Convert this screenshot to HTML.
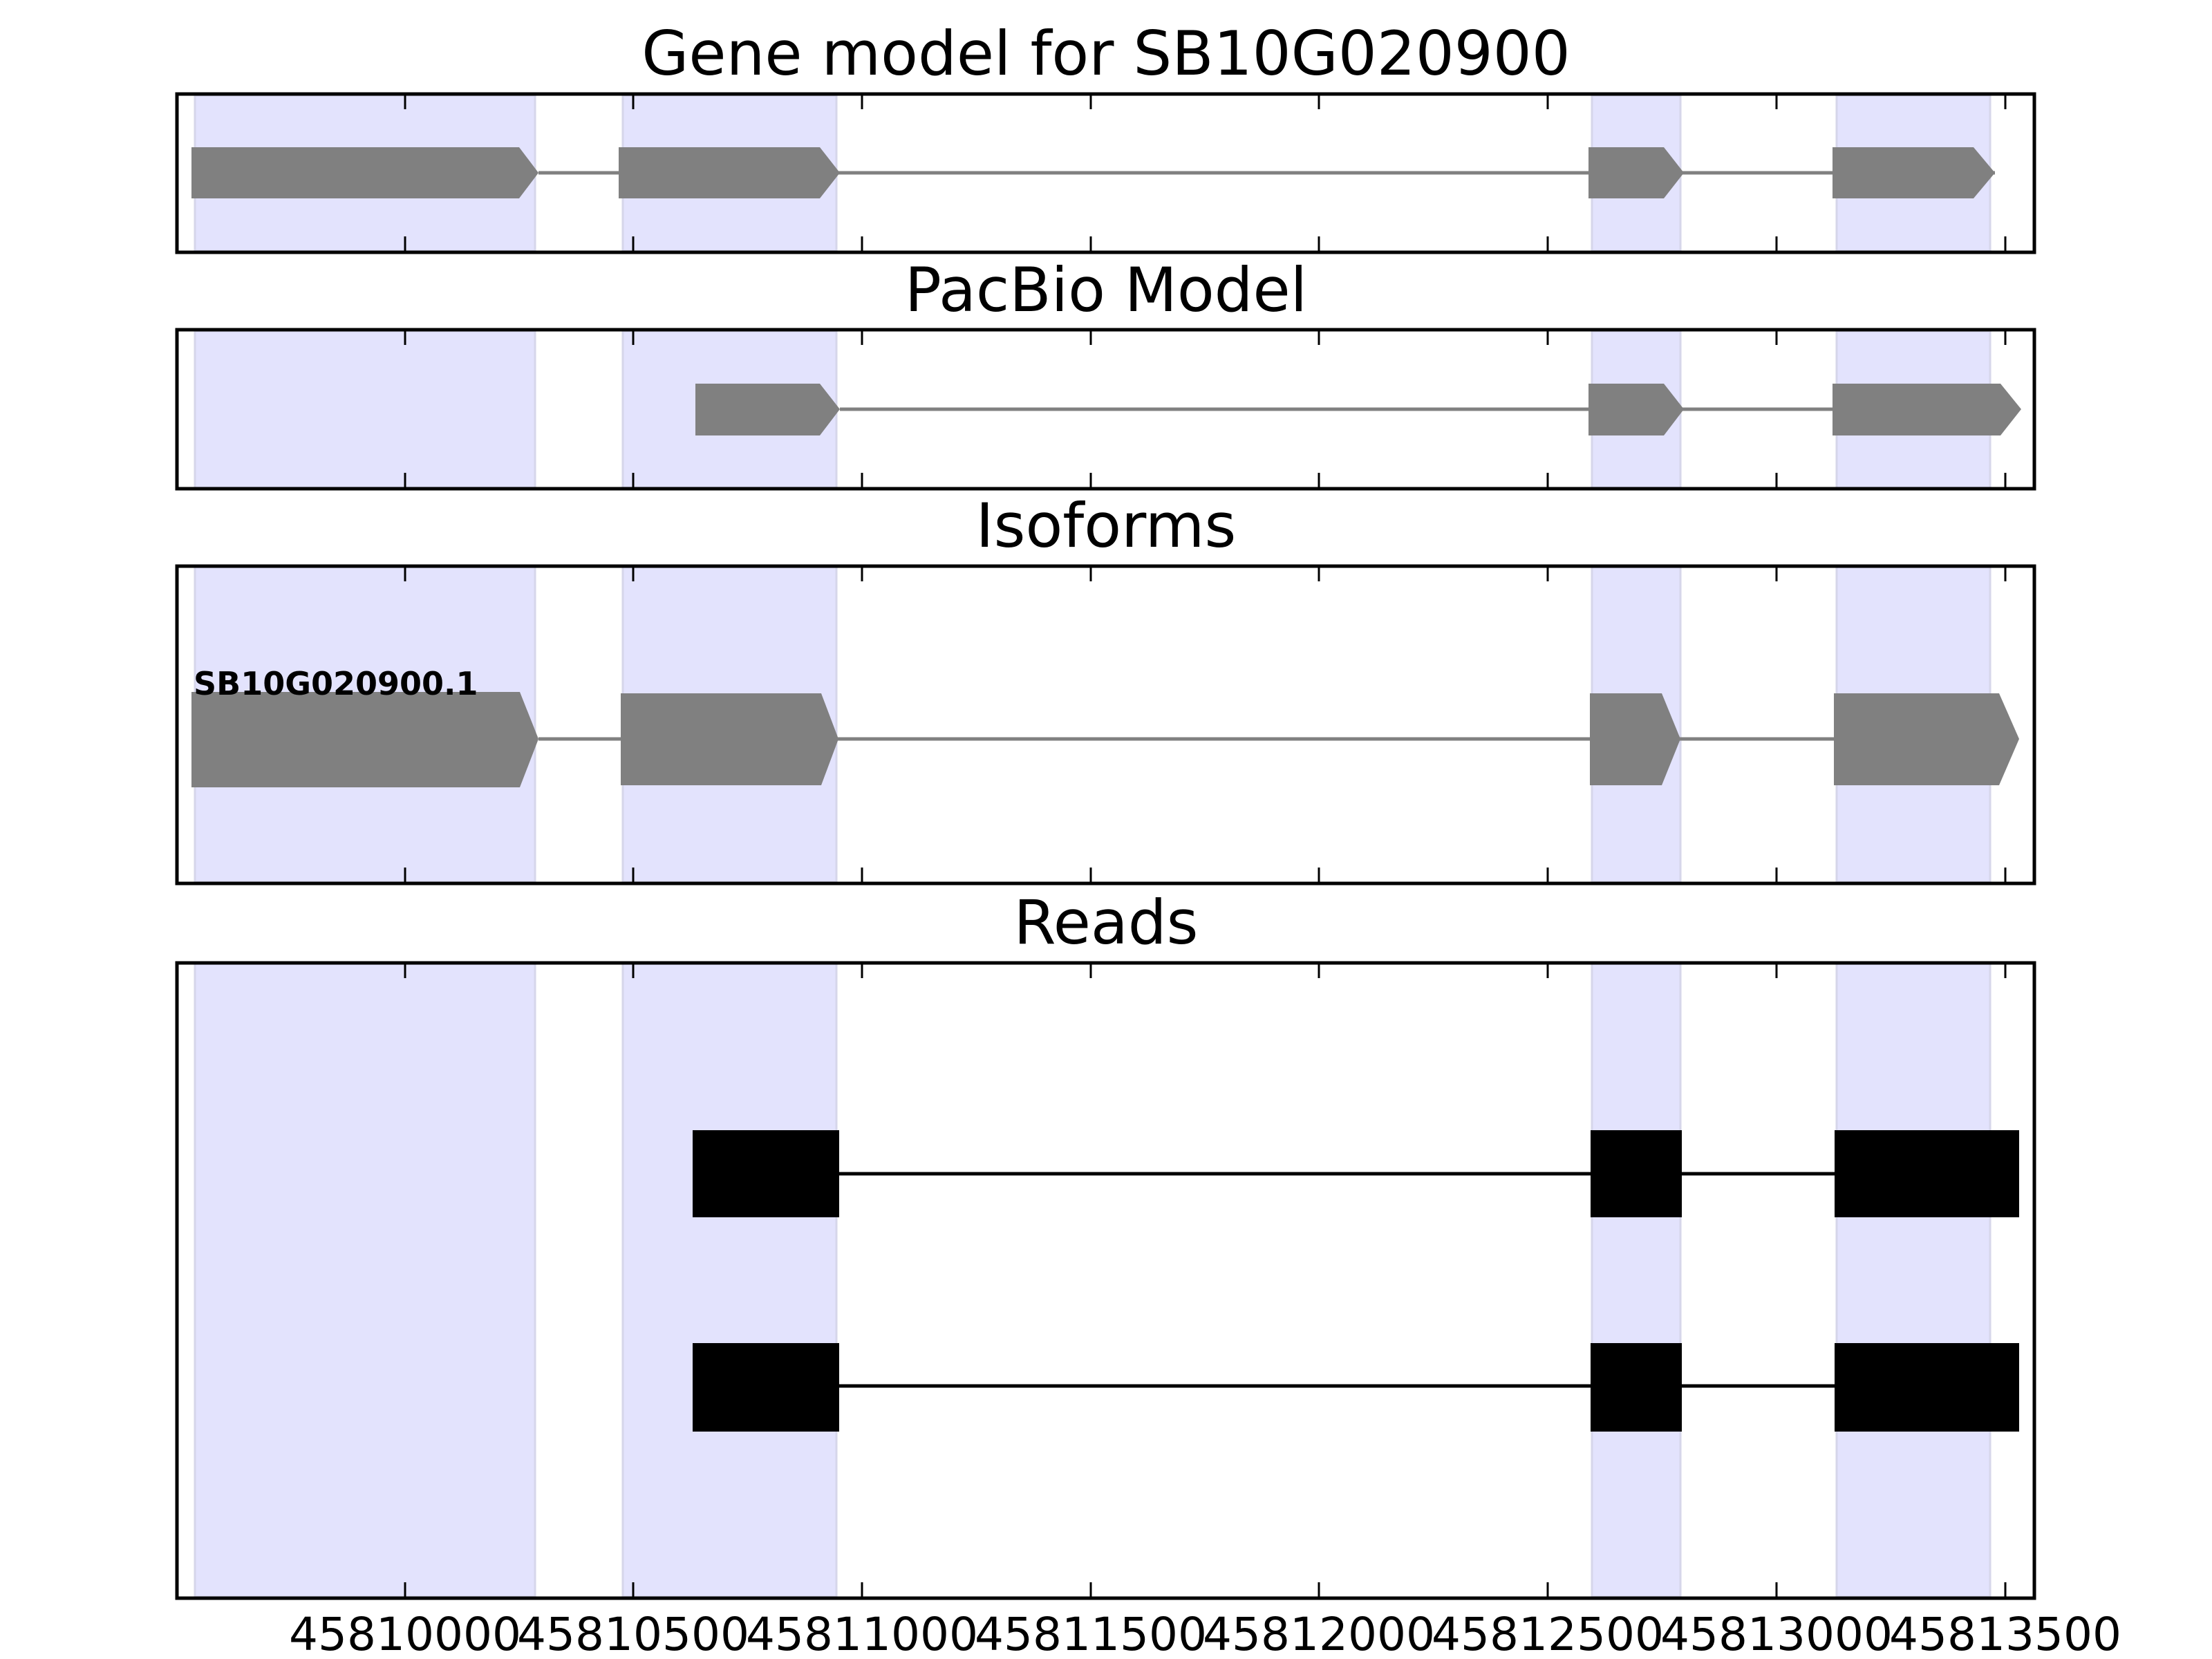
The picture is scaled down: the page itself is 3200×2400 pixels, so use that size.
<!DOCTYPE html>
<html><head><meta charset="utf-8"><style>html,body{margin:0;padding:0;background:#fff}svg{display:block}</style></head>
<body>
<svg width="3200" height="2400" viewBox="0 0 3200 2400" xmlns="http://www.w3.org/2000/svg" font-family="DejaVu Sans, Liberation Sans, sans-serif">
<g font-size="88" text-anchor="middle" fill="#000">
<text x="1600" y="108">Gene model for SB10G020900</text>
<text x="1600" y="450">PacBio Model</text>
<text x="1600" y="791">Isoforms</text>
<text x="1600" y="1365">Reads</text>
</g>
<g fill="#e3e3fd" stroke="#d6d6ea" stroke-width="3">
<rect x="282" y="138" width="492" height="225"/><rect x="901" y="138" width="309" height="225"/><rect x="2303" y="138" width="128" height="225"/><rect x="2657" y="138" width="222" height="225"/>
<rect x="282" y="479" width="492" height="227"/><rect x="901" y="479" width="309" height="227"/><rect x="2303" y="479" width="128" height="227"/><rect x="2657" y="479" width="222" height="227"/>
<rect x="282" y="820" width="492" height="456"/><rect x="901" y="820" width="309" height="456"/><rect x="2303" y="820" width="128" height="456"/><rect x="2657" y="820" width="222" height="456"/>
<rect x="282" y="1394" width="492" height="916"/><rect x="901" y="1394" width="309" height="916"/><rect x="2303" y="1394" width="128" height="916"/><rect x="2657" y="1394" width="222" height="916"/>
</g>
<g fill="#808080">
<line x1="779" y1="250" x2="2886" y2="250" stroke="#808080" stroke-width="5"/>
<polygon points="277,213 751,213 779,250 751,287 277,287"/>
<polygon points="895,213 1186,213 1215,250 1186,287 895,287"/>
<polygon points="2298,213 2407,213 2436,250 2407,287 2298,287"/>
<polygon points="2651,213 2855,213 2886,250 2855,287 2651,287"/>
</g>
<g fill="#808080">
<line x1="1215" y1="592" x2="2900" y2="592" stroke="#808080" stroke-width="5"/>
<polygon points="1006,555 1186,555 1215,592 1186,630 1006,630"/>
<polygon points="2298,555 2407,555 2436,592 2407,630 2298,630"/>
<polygon points="2651,555 2894,555 2924,592 2894,630 2651,630"/>
</g>
<g fill="#808080">
<line x1="779" y1="1069" x2="2900" y2="1069" stroke="#808080" stroke-width="5"/>
<polygon points="277,1001 752,1001 779,1069 752,1139 277,1139"/>
<polygon points="898,1003 1188,1003 1213,1069 1188,1136 898,1136"/>
<polygon points="2300,1003 2404,1003 2431,1069 2404,1136 2300,1136"/>
<polygon points="2653,1003 2892,1003 2921,1069 2892,1136 2653,1136"/>
</g>
<text x="280" y="1005" font-size="46" font-weight="bold" fill="#000">SB10G020900.1</text>
<g fill="#000">
<line x1="1100" y1="1698" x2="2700" y2="1698" stroke="#000" stroke-width="5"/>
<rect x="1002" y="1635" width="212" height="126"/><rect x="2301" y="1635" width="132" height="126"/><rect x="2654" y="1635" width="267" height="126"/>
<line x1="1100" y1="2005" x2="2700" y2="2005" stroke="#000" stroke-width="5"/>
<rect x="1002" y="1943" width="212" height="128"/><rect x="2301" y="1943" width="132" height="128"/><rect x="2654" y="1943" width="267" height="128"/>
</g>
<g stroke="#000" stroke-width="3">
<path d="M586,137v21M916,137v21M1247,137v21M1578,137v21M1908,137v21M2239,137v21M2570,137v21M2901,137v21
M586,363v-21M916,363v-21M1247,363v-21M1578,363v-21M1908,363v-21M2239,363v-21M2570,363v-21M2901,363v-21
M586,478v21M916,478v21M1247,478v21M1578,478v21M1908,478v21M2239,478v21M2570,478v21M2901,478v21
M586,705v-21M916,705v-21M1247,705v-21M1578,705v-21M1908,705v-21M2239,705v-21M2570,705v-21M2901,705v-21
M586,820v21M916,820v21M1247,820v21M1578,820v21M1908,820v21M2239,820v21M2570,820v21M2901,820v21
M586,1276v-21M916,1276v-21M1247,1276v-21M1578,1276v-21M1908,1276v-21M2239,1276v-21M2570,1276v-21M2901,1276v-21
M586,1394v21M916,1394v21M1247,1394v21M1578,1394v21M1908,1394v21M2239,1394v21M2570,1394v21M2901,1394v21
M586,2310v-21M916,2310v-21M1247,2310v-21M1578,2310v-21M1908,2310v-21M2239,2310v-21M2570,2310v-21M2901,2310v-21"/>
</g>
<g fill="none" stroke="#000" stroke-width="5">
<rect x="256" y="136" width="2687" height="229"/>
<rect x="256" y="477" width="2687" height="230"/>
<rect x="256" y="819" width="2687" height="459"/>
<rect x="256" y="1393" width="2687" height="919"/>
</g>
<g font-size="66" text-anchor="middle" fill="#000">
<text x="586" y="2387">45810000</text><text x="916" y="2387">45810500</text><text x="1247" y="2387">45811000</text><text x="1578" y="2387">45811500</text><text x="1908" y="2387">45812000</text><text x="2239" y="2387">45812500</text><text x="2570" y="2387">45813000</text><text x="2901" y="2387">45813500</text>
</g>
</svg>
</body></html>
